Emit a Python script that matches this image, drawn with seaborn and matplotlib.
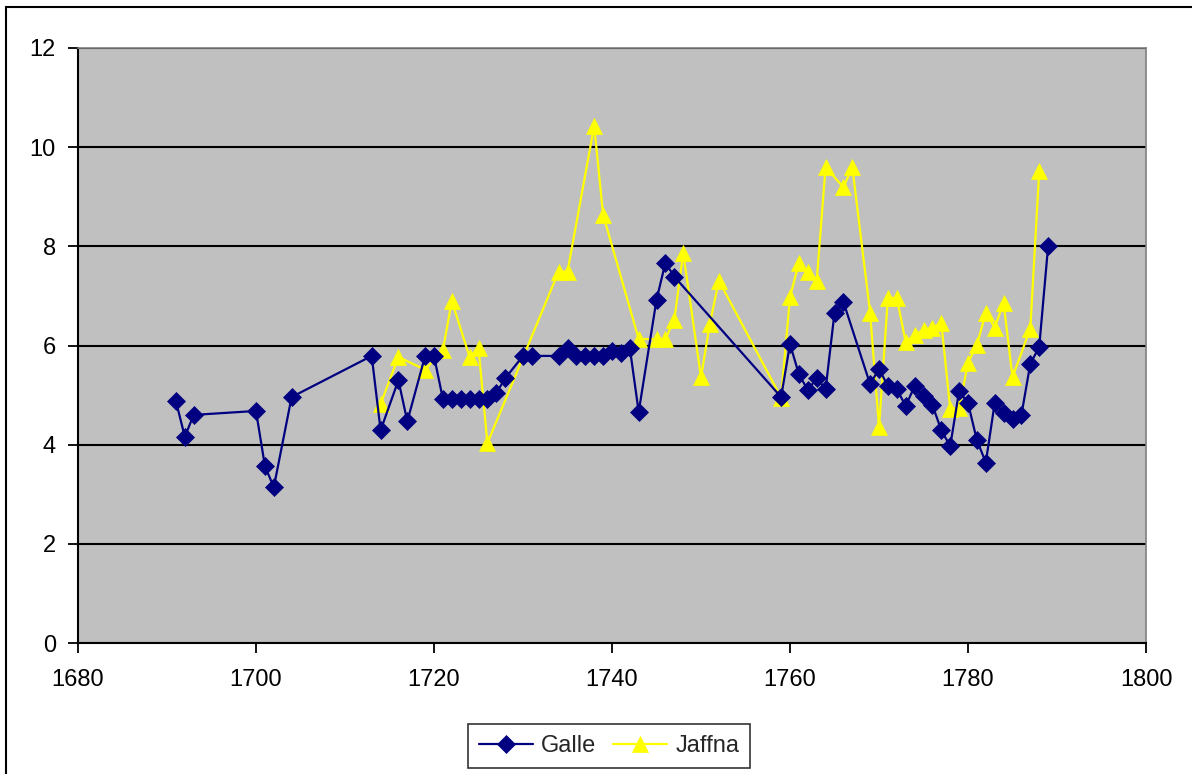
import numpy as np
import pandas as pd
import matplotlib
matplotlib.use("Agg")
import matplotlib.pyplot as plt
import seaborn as sns
from matplotlib.patches import Rectangle

# Galle series
galle_years = [1691, 1692, 1693, 1700, 1701, 1702, 1704, 1713, 1714, 1716, 1717,
               1719, 1720, 1721, 1722, 1723, 1724, 1725, 1726, 1727, 1728, 1730,
               1731, 1734, 1735, 1736, 1737, 1738, 1739, 1740, 1741, 1742, 1743,
               1745, 1746, 1747, 1759, 1760, 1761, 1762, 1763, 1764, 1765, 1766,
               1769, 1770, 1771, 1772, 1773, 1774, 1775, 1776, 1777, 1778, 1779,
               1780, 1781, 1782, 1783, 1784, 1785, 1786, 1787, 1788, 1789]
galle_values = [4.88, 4.16, 4.60, 4.68, 3.57, 3.14, 4.96, 5.79, 4.29, 5.30, 4.47,
                5.79, 5.79, 4.92, 4.92, 4.92, 4.92, 4.92, 4.92, 5.04, 5.34, 5.79,
                5.79, 5.79, 5.95, 5.79, 5.79, 5.79, 5.79, 5.89, 5.85, 5.95, 4.66,
                6.92, 7.67, 7.39, 4.96, 6.03, 5.42, 5.10, 5.34, 5.12, 6.66, 6.88,
                5.22, 5.53, 5.18, 5.12, 4.78, 5.18, 4.98, 4.80, 4.29, 3.97, 5.08,
                4.84, 4.09, 3.64, 4.84, 4.64, 4.51, 4.60, 5.63, 5.97, 8.00]

# Jaffna series
jaffna_years = [1714, 1716, 1719, 1721, 1722, 1724, 1725, 1726, 1734, 1735, 1738,
                1739, 1743, 1745, 1746, 1747, 1748, 1750, 1751, 1752, 1759, 1760,
                1761, 1762, 1763, 1764, 1766, 1767, 1769, 1770, 1771, 1772, 1773,
                1774, 1775, 1776, 1777, 1778, 1779, 1780, 1781, 1782, 1783, 1784,
                1785, 1787, 1788]
jaffna_values = [4.82, 5.77, 5.51, 5.91, 6.90, 5.77, 5.95, 4.03, 7.49, 7.49, 10.43,
                 8.64, 6.13, 6.13, 6.13, 6.52, 7.87, 5.36, 6.44, 7.31, 4.95, 6.98,
                 7.67, 7.49, 7.31, 9.60, 9.19, 9.60, 6.66, 4.35, 6.96, 6.96, 6.07,
                 6.21, 6.32, 6.36, 6.46, 4.72, 4.74, 5.65, 6.01, 6.66, 6.36, 6.86,
                 5.36, 6.34, 9.51]

x_ticks = [1680, 1700, 1720, 1740, 1760, 1780, 1800]
y_ticks = [0, 2, 4, 6, 8, 10, 12]

df = pd.concat([
    pd.DataFrame({"year": galle_years, "value": galle_values, "place": "Galle"}),
    pd.DataFrame({"year": jaffna_years, "value": jaffna_values, "place": "Jaffna"}),
], ignore_index=True)

sns.set_theme(style="white")
plt.rcParams["font.family"] = ["Liberation Sans", "DejaVu Sans"]

W, H, DPI = 1192, 774, 100
FS = 17
fig = plt.figure(figsize=(W / DPI, H / DPI), dpi=DPI)
ax = fig.add_axes([78 / W, 1 - 643 / H, (1146 - 78) / W, (643 - 48) / H])
ax.set_facecolor("#C0C0C0")

palette = {"Galle": "#000080", "Jaffna": "#FFFF00"}
markers = {"Galle": "D", "Jaffna": "^"}
sizes = {"Galle": 9, "Jaffna": 11}
for place in ["Jaffna", "Galle"]:
    sub = df[df["place"] == place]
    sns.lineplot(data=sub, x="year", y="value", ax=ax, sort=False,
                 color=palette[place], linewidth=1.6, marker=markers[place],
                 markersize=sizes[place], markeredgecolor=palette[place],
                 markeredgewidth=0.5, label=place, zorder=3 if place == "Galle" else 2)

ax.set_xlim(1680, 1800)
ax.set_ylim(0, 12)
ax.set_xticks(x_ticks)
ax.set_yticks(y_ticks)
ax.set_xlabel("")
ax.set_ylabel("")
ax.yaxis.grid(True, color="black", linewidth=1.5)
ax.xaxis.grid(False)
ax.set_axisbelow(True)

for side in ["left", "bottom"]:
    ax.spines[side].set_color("black")
    ax.spines[side].set_linewidth(1.5)
for side in ["right", "top"]:
    ax.spines[side].set_color("#808080")
    ax.spines[side].set_linewidth(1.2)

ax.tick_params(axis="both", which="major", direction="out", length=7, width=1.3,
               color="black", labelsize=FS, labelcolor="black")
ax.tick_params(axis="y", pad=9)
ax.tick_params(axis="x", pad=12)
ax.tick_params(left=True, bottom=True)

# Legend along the bottom, Galle first
handles, labels = ax.get_legend_handles_labels()
order = [labels.index("Galle"), labels.index("Jaffna")]
leg = ax.legend([handles[i] for i in order], [labels[i] for i in order],
                loc="center", bbox_to_anchor=(609 / W, 1 - 746 / H),
                bbox_transform=fig.transFigure, ncol=2, frameon=True,
                fancybox=False, fontsize=FS, handlelength=2.3,
                handletextpad=0.35, columnspacing=0.7, borderpad=0.45,
                borderaxespad=0)
leg.get_frame().set_edgecolor("black")
leg.get_frame().set_linewidth(1.2)

# Chart-area border
fig.patches.append(Rectangle((6 / W, -0.05), 1.1, 1 - 7 / H + 0.05,
                             transform=fig.transFigure, fill=False,
                             edgecolor="black", linewidth=1.5))

fig.savefig("out.png", dpi=DPI, facecolor="white")
